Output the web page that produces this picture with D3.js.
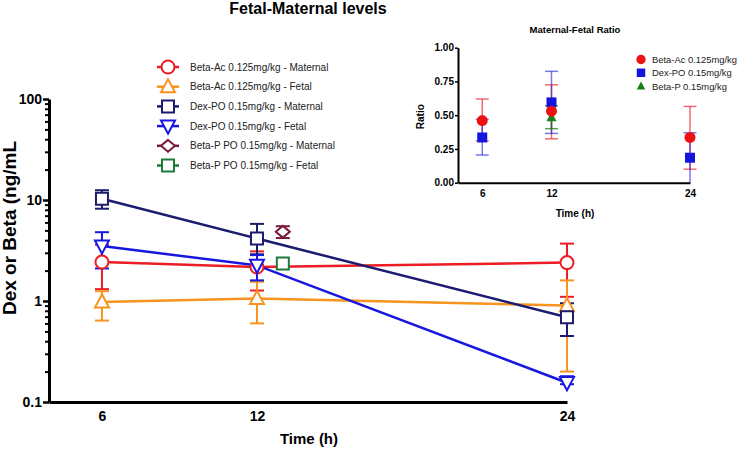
<!DOCTYPE html>
<html><head><meta charset="utf-8">
<script src="https://cdn.jsdelivr.net/npm/d3@7"></script>
<style>
body{margin:0;background:#fff;}
svg{display:block;font-family:"Liberation Sans",Arial,Helvetica,sans-serif;}
</style></head>
<body><svg id="chart" width="740" height="449"></svg>
<script>
// ---------- Data (main chart) ----------
const times = [6, 12, 24];
const betaAcMaternal = [2.43, 2.17, 2.4];
const betaAcMaternalLo = [1.31, 1.27, 1.1];
const betaAcMaternalHi = [3.6, 3.1, 3.7];
const betaAcFetal = [0.98, 1.06, 0.9];
const betaAcFetalLo = [0.64, 0.6, 0.2];
const betaAcFetalHi = [1.25, 1.55, 1.6];
const dexMaternal = [10.3, 4.15, 0.69];
const dexMaternalLo = [8.2, 2.9, 0.45];
const dexMaternalHi = [12.5, 5.8, 0.95];
const dexFetal = [3.5, 2.25, 0.155];
const dexFetalLo = [2.1, 1.6, 0.15];
const dexFetalHi = [4.8, 2.85, 0.18];
const betaPTimes = [13];
const betaPMaternal = [4.85];
const betaPMaternalLo = [4.2];
const betaPMaternalHi = [5.5];
const betaPFetal = [2.35];
const betaPFetalLo = [2.35];
const betaPFetalHi = [2.35];
const yMajorTicks = [0.1, 1, 10, 100];
const xTicks = [6, 12, 24];
const mainLabels = ["Beta-Ac 0.125mg/kg - Maternal","Beta-Ac 0.125mg/kg - Fetal","Dex-PO 0.15mg/kg - Maternal","Dex-PO 0.15mg/kg - Fetal","Beta-P PO 0.15mg/kg - Maternal","Beta-P PO 0.15mg/kg - Fetal"];

// ---------- Data (inset) ----------
const ratioTimes = [6, 12, 24];
const ratioBetaAc = [0.46, 0.53, 0.335];
const ratioBetaAcLo = [0.31, 0.325, 0.10];
const ratioBetaAcHi = [0.62, 0.725, 0.565];
const ratioDex = [0.335, 0.595, 0.185];
const ratioDexLo = [0.205, 0.365, 0.0];
const ratioDexHi = [0.47, 0.825, 0.37];
const ratioBetaPTimes = [12];
const ratioBetaP = [0.485];
const ratioBetaPLo = [0.40];
const ratioBetaPHi = [0.57];
const ratioTicks = [0, 0.25, 0.5, 0.75, 1];
const insetLabels = ["Beta-Ac 0.125mg/kg","Dex-PO 0.15mg/kg","Beta-P 0.15mg/kg"];

// ---------- Styles ----------
const C = {red:"#ec1c24", orange:"#f7931e", navy:"#1b1b70", blue:"#1717e0", maroon:"#7a1a3e", green:"#1d7b3a"};

// custom symbols
const symTri = {draw(ctx,s){const h=s*0.9, w=s/2; ctx.moveTo(0,-h*0.6); ctx.lineTo(w,h*0.45); ctx.lineTo(-w,h*0.45); ctx.closePath();}};
const symTriDown = {draw(ctx,s){const h=s*0.9, w=s/2; ctx.moveTo(0,h*0.6); ctx.lineTo(w,-h*0.45); ctx.lineTo(-w,-h*0.45); ctx.closePath();}};
const symSq = {draw(ctx,s){const a=s/2; ctx.rect(-a,-a,s,s);}};
const symCirc = {draw(ctx,s){ctx.moveTo(s/2,0); ctx.arc(0,0,s/2,0,2*Math.PI);}};
const symDia = {draw(ctx,s){const w=s/2,h=s*0.42; ctx.moveTo(0,-h); ctx.lineTo(w,0); ctx.lineTo(0,h); ctx.lineTo(-w,0); ctx.closePath();}};

const svg = d3.select("#chart");

// ---------- Main chart ----------
const x = d3.scaleLinear().domain([3.95, 24]).range([49, 567]);
const y = d3.scaleLog().domain([0.1, 100]).range([402, 99]);

const series = [
  {t:times, v:betaAcMaternal, lo:betaAcMaternalLo, hi:betaAcMaternalHi, c:C.red, sym:symCirc, sz:13, line:true},
  {t:times, v:betaAcFetal, lo:betaAcFetalLo, hi:betaAcFetalHi, c:C.orange, sym:symTri, sz:14, line:true},
  {t:times, v:dexMaternal, lo:dexMaternalLo, hi:dexMaternalHi, c:C.navy, sym:symSq, sz:12, line:true},
  {t:times, v:dexFetal, lo:dexFetalLo, hi:dexFetalHi, c:C.blue, sym:symTriDown, sz:14, line:true},
  {t:betaPTimes, v:betaPMaternal, lo:betaPMaternalLo, hi:betaPMaternalHi, c:C.maroon, sym:symDia, sz:14, line:false},
  {t:betaPTimes, v:betaPFetal, lo:betaPFetalLo, hi:betaPFetalHi, c:C.green, sym:symSq, sz:12, line:false}
];

// axes
const minorTicks = [];
[0.1,1,10].forEach(d => { for (let k=2;k<=9;k++) minorTicks.push(d*k); });
const gyMinor = svg.append("g").attr("transform","translate(49,0)")
  .call(d3.axisLeft(y).tickValues(minorTicks).tickSize(4).tickSizeOuter(0).tickFormat(""));
gyMinor.select(".domain").remove();
gyMinor.selectAll("line").attr("stroke","#000").attr("stroke-width",2);
const gy = svg.append("g").attr("transform","translate(49,0)")
  .call(d3.axisLeft(y).tickValues(yMajorTicks).tickSize(6).tickSizeOuter(0).tickPadding(1).tickFormat(d => String(d)));
gy.select(".domain").attr("stroke","#000").attr("stroke-width",3);
gy.selectAll("line").attr("stroke","#000").attr("stroke-width",2.5);
gy.selectAll("text").attr("font-size",14).attr("font-weight","bold").attr("fill","#000").attr("font-family","Liberation Sans, Arial, sans-serif");

const gx = svg.append("g").attr("transform","translate(0,402)")
  .call(d3.axisBottom(x).tickValues(xTicks).tickSize(0).tickSizeOuter(0).tickPadding(9));
gx.select(".domain").attr("stroke","#000").attr("stroke-width",3);
gx.selectAll("text").attr("font-size",14).attr("font-weight","bold").attr("fill","#000").attr("font-family","Liberation Sans, Arial, sans-serif");

// titles
svg.append("text").attr("x",308).attr("y",14).attr("text-anchor","middle")
  .attr("font-size",16).attr("font-weight","bold").text("Fetal-Maternal levels");
svg.append("text").attr("x",309).attr("y",444).attr("text-anchor","middle")
  .attr("font-size",15).attr("font-weight","bold").text("Time (h)");
svg.append("text").attr("transform","translate(15.5,228) rotate(-90)").attr("text-anchor","middle")
  .attr("font-size",19).attr("font-weight","bold").text("Dex or Beta (ng/mL");

// lines
const plot = svg.append("g");
series.forEach(s => {
  const pts = s.t.map((t,i)=>({t, v:s.v[i], lo:s.lo[i], hi:s.hi[i]}));
  const g = plot.append("g");
  pts.forEach(p => {
    if (p.lo === p.hi) return;
    g.append("line").attr("x1",x(p.t)).attr("x2",x(p.t)).attr("y1",y(p.lo)).attr("y2",y(p.hi))
      .attr("stroke",s.c).attr("stroke-width",2);
    [p.lo,p.hi].forEach(e => g.append("line").attr("x1",x(p.t)-7).attr("x2",x(p.t)+7)
      .attr("y1",y(e)).attr("y2",y(e)).attr("stroke",s.c).attr("stroke-width",2));
  });
  s.pts = pts;
});
series.forEach(s => {
  if (s.line) {
    plot.append("path").datum(s.pts)
      .attr("d", d3.line().x(p=>x(p.t)).y(p=>y(p.v)))
      .attr("fill","none").attr("stroke",s.c).attr("stroke-width",2.5);
  }
});
series.forEach(s => {
  plot.selectAll(null).data(s.pts).join("path")
    .attr("transform", p=>`translate(${x(p.t)},${y(p.v)})`)
    .attr("d", d3.symbol().type(s.sym).size(s.sz))
    .attr("fill","#fff").attr("stroke",s.c).attr("stroke-width",2);
});

// main legend
const leg = svg.append("g");
series.forEach((s,i) => {
  const yy = 67 + i*19.7;
  leg.append("line").attr("x1",157).attr("x2",179).attr("y1",yy).attr("y2",yy).attr("stroke",s.c).attr("stroke-width",2.5);
  leg.append("path").attr("transform",`translate(168,${yy})`).attr("d", d3.symbol().type(s.sym).size(s.sz))
    .attr("fill","#fff").attr("stroke",s.c).attr("stroke-width",2);
  leg.append("text").attr("x",190).attr("y",yy+3.5).attr("font-size",10).attr("fill","#222").text(mainLabels[i]);
});

// ---------- Inset ----------
const xi = d3.scaleLinear().domain([3.9, 24]).range([458, 690]);
const yi = d3.scaleLinear().domain([0, 1]).range([182.7, 47.7]);

const gyi = svg.append("g").attr("transform","translate(458,0)")
  .call(d3.axisLeft(yi).tickValues(ratioTicks).tickSize(3).tickSizeOuter(0).tickPadding(1).tickFormat(d3.format(".2f")));
gyi.select(".domain").attr("stroke","#000").attr("stroke-width",2);
gyi.selectAll("line").attr("stroke","#000").attr("stroke-width",1.5);
gyi.selectAll("text").attr("font-size",10).attr("font-weight","bold").attr("fill","#000").attr("font-family","Liberation Sans, Arial, sans-serif");
const gxi = svg.append("g").attr("transform","translate(0,182.7)")
  .call(d3.axisBottom(xi).tickValues(ratioTimes).tickSize(0).tickSizeOuter(0).tickPadding(7));
gxi.select(".domain").attr("stroke","#000").attr("stroke-width",2);
gxi.selectAll("text").attr("font-size",10).attr("font-weight","bold").attr("fill","#000").attr("font-family","Liberation Sans, Arial, sans-serif");

svg.append("text").attr("x",575).attr("y",33).attr("text-anchor","middle").attr("font-size",9.5).attr("font-weight","bold").text("Maternal-Fetal Ratio");
svg.append("text").attr("x",575).attr("y",217).attr("text-anchor","middle").attr("font-size",10).attr("font-weight","bold").text("Time (h)");
svg.append("text").attr("transform","translate(424,116.7) rotate(-90)").attr("text-anchor","middle").attr("font-size",10).attr("font-weight","bold").text("Ratio");

const ratioSeries = [
  {t:ratioTimes, v:ratioBetaAc, lo:ratioBetaAcLo, hi:ratioBetaAcHi, c:"#ee1111", ec:"rgba(230,30,40,0.65)", sym:symCirc, sz:11},
  {t:ratioTimes, v:ratioDex, lo:ratioDexLo, hi:ratioDexHi, c:"#1414dc", ec:"rgba(30,30,220,0.6)", sym:symSq, sz:10},
  {t:ratioBetaPTimes, v:ratioBetaP, lo:ratioBetaPLo, hi:ratioBetaPHi, c:"#1a7f1a", ec:"rgba(20,120,20,0.7)", sym:symTri, sz:10}
];
const ip = svg.append("g");
ratioSeries.forEach(s => {
  s.t.forEach((t,i) => {
    ip.append("line").attr("x1",xi(t)).attr("x2",xi(t)).attr("y1",yi(s.lo[i])).attr("y2",yi(s.hi[i]))
      .attr("stroke",s.ec).attr("stroke-width",1.5);
    [s.lo[i], s.hi[i]].forEach(e => { if (e > 0) ip.append("line").attr("x1",xi(t)-6.5).attr("x2",xi(t)+6.5)
      .attr("y1",yi(e)).attr("y2",yi(e)).attr("stroke",s.ec).attr("stroke-width",1.5); });
  });
});
ratioSeries.slice().reverse().forEach(s => {
  s.t.forEach((t,i) => {
    ip.append("path").attr("transform",`translate(${xi(t)},${yi(s.v[i])})`)
      .attr("d", d3.symbol().type(s.sym).size(s.sz)).attr("fill",s.c).attr("stroke","none");
  });
});
ratioSeries.forEach((s,i) => {
  const yy = 59.5 + i*13.3;
  svg.append("path").attr("transform",`translate(641,${yy})`).attr("d", d3.symbol().type(s.sym).size(s.sz*0.85)).attr("fill",s.c);
  svg.append("text").attr("x",652).attr("y",yy+3.5).attr("font-size",9.4).attr("fill","#222").text(insetLabels[i]);
});
</script></body></html>
